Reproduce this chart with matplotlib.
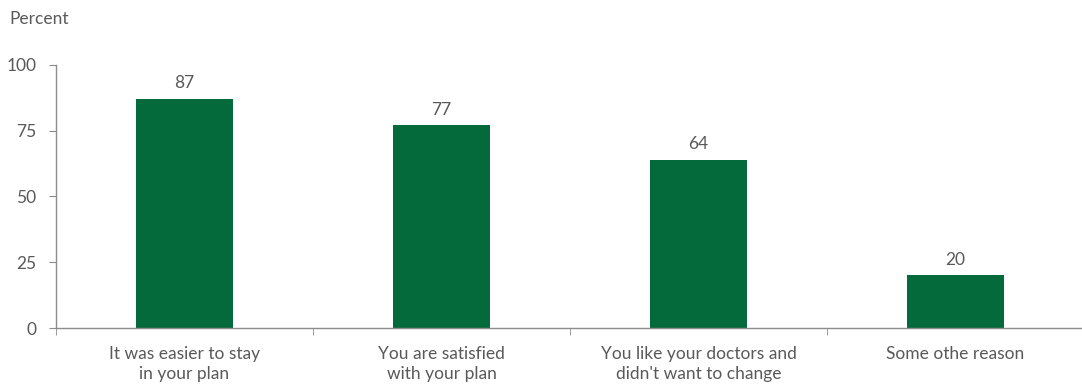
import matplotlib.pyplot as plt
import numpy as np

categories = ["It was easier to stay\nin your plan",
              "You are satisfied\nwith your plan",
              "You like your doctors and\ndidn't want to change",
              "Some othe reason"]
values = [87, 77, 64, 20]
yticks = [0, 25, 50, 75, 100]

plt.rcParams['font.family'] = ['Lato', 'DejaVu Sans']
text_color = '#595959'
axis_color = '#8c8c8c'
fs = 12.5

fig = plt.figure(figsize=(10.82, 3.88), dpi=100)
ax = fig.add_axes([0.0518, 0.1546, 0.950, 0.678])

x = np.arange(len(categories))
ax.bar(x, values, width=0.377, color='#046A3C')

for xi, v in zip(x, values):
    ax.text(xi, v + 3, str(v), ha='center', va='bottom', fontsize=fs, color=text_color)

ax.set_xlim(-0.5, len(categories) - 0.5)
ax.set_ylim(0, 100)
ax.set_yticks(yticks)
ax.set_xticks(x)
ax.set_xticklabels(categories, fontsize=fs, color=text_color, linespacing=1.3)
ax.set_xticks(np.arange(len(categories) + 1) - 0.5, minor=True)
ax.tick_params(axis='x', which='major', length=0, pad=13)
ax.tick_params(axis='x', which='minor', length=5, color=axis_color, direction='out')
ax.tick_params(axis='y', length=5, color=axis_color, labelsize=fs, labelcolor=text_color, pad=9)

for side in ['top', 'right']:
    ax.spines[side].set_visible(False)
for side in ['left', 'bottom']:
    ax.spines[side].set_color(axis_color)
    ax.spines[side].set_linewidth(1)

fig.text(0.009, 0.952, "Percent", fontsize=fs, color=text_color, ha='left', va='center')

fig.savefig('out.png', dpi=100)
